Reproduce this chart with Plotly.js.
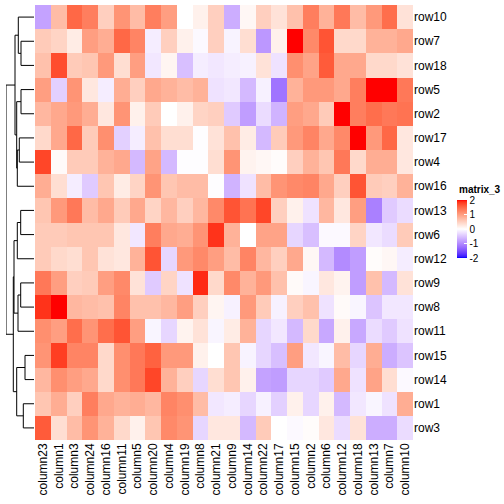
<!DOCTYPE html>
<html><head><meta charset="utf-8">
<script src="https://cdn.plot.ly/plotly-3.0.1.min.js"></script>
<style>html,body{margin:0;padding:0;background:#fff}#chart{width:504px;height:504px}</style>
</head><body><div id="chart"></div>
<script>
const columns = ["column23","column1","column3","column24","column16","column11","column5","column20","column4","column19","column8","column21","column9","column14","column22","column17","column15","column2","column6","column12","column18","column13","column7","column10"];
const rows = ["row10","row7","row18","row5","row2","row17","row4","row16","row13","row6","row12","row9","row8","row11","row15","row14","row1","row3"];

const row10 = [-0.8,0.7,1.5,1.3,0.5,1.1,0.7,1.3,1.0,0.0,0.15,0.5,-0.7,0.08,0.5,0.3,0.65,1.3,0.8,1.35,0.7,1.05,1.45,0.3];
const row7  = [0.55,0.45,0.2,1.0,0.85,1.5,1.25,-0.15,0.5,0.15,-0.05,0.5,-0.1,0.35,-0.9,0.15,2.2,1.2,1.65,0.4,0.4,0.8,0.8,0.9];
const row18 = [0.65,1.7,0.55,0.6,1.05,0.35,1.0,-0.2,0.1,-0.55,-0.15,-0.2,-0.15,-0.12,0.3,-0.25,1.15,0.95,1.6,0.9,0.9,0.4,0.4,0.3];
const row5  = [1.0,-0.4,1.1,0.25,-0.15,0.85,0.5,0.9,0.8,0.7,0.8,-0.25,-0.2,-0.6,-0.12,-1.2,0.8,1.05,1.05,0.9,1.3,2.05,2.2,1.35];
const row2  = [0.75,0.9,1.05,0.85,0.25,1.1,0.15,0.55,0.0,0.15,0.45,0.5,-0.45,-0.85,-0.3,-0.65,1.0,0.9,0.55,2.2,1.3,1.45,1.35,1.4];
const row17 = [0.4,0.9,1.5,0.55,1.15,-0.4,-0.15,0.65,0.35,0.35,-0.02,0.3,0.65,0.2,-0.6,0.55,1.05,1.25,0.9,1.2,2.2,1.05,1.5,0.25];
const row4  = [1.75,0.05,0.55,0.55,0.8,0.9,-0.6,0.95,-0.6,-0.02,-0.02,0.35,1.1,0.12,0.08,0.03,0.5,0.8,0.6,1.35,0.4,0.85,0.85,0.25];
const row16 = [0.85,0.35,-0.15,-0.45,0.6,0.2,0.45,1.1,0.6,0.7,0.7,-0.02,-0.65,-0.25,0.7,1.1,1.2,1.25,0.9,0.5,1.65,0.55,0.5,0.8];
const row13 = [0.6,1.05,1.35,0.7,0.9,0.55,0.9,0.45,0.75,0.5,0.75,1.2,1.65,1.4,1.75,0.5,0.15,-0.25,0.75,0.25,1.0,-1.1,-0.45,-0.3];
const row6  = [0.55,0.55,0.6,0.6,0.6,0.25,-0.2,1.3,0.9,0.85,1.1,1.85,0.8,0.0,0.95,0.95,-0.35,-0.55,-0.05,-0.05,0.45,-0.2,-0.3,0.55];
const row12 = [0.55,0.4,0.35,0.6,0.3,0.25,0.8,1.65,-0.35,1.05,1.2,1.0,0.7,1.25,0.75,0.5,0.9,0.08,-0.6,-1.0,-0.85,0.03,0.08,-0.15];
const row9  = [1.35,1.0,0.5,0.55,1.0,1.2,0.3,-0.45,0.45,-0.25,1.9,0.4,1.2,0.8,1.05,0.65,0.05,-0.08,0.25,0.12,-0.85,0.65,-0.6,0.3];
const row8  = [1.85,2.2,0.75,0.7,0.65,1.25,0.65,0.65,0.75,1.0,0.5,0.1,-0.12,1.05,0.55,-0.12,0.5,0.65,-0.25,0.05,-0.08,-0.5,-0.2,-0.2];
const row11 = [1.15,1.0,1.45,1.1,1.45,1.65,1.0,-0.08,-0.35,0.12,0.3,-0.08,0.2,0.8,-0.35,-0.2,-0.6,0.4,-0.75,0.15,-0.75,-0.3,-0.45,-0.25];
const row15 = [1.1,1.8,1.25,1.25,0.4,1.15,1.35,1.55,1.05,1.05,0.15,0.0,0.6,-0.1,-0.35,-0.55,1.0,-0.2,-0.08,0.7,-0.35,0.85,-0.7,-0.5];
const row14 = [0.75,1.15,1.0,0.9,0.4,1.15,1.35,1.75,0.8,0.5,-0.35,0.35,0.6,0.15,-0.8,-0.85,-0.35,-0.35,-0.45,0.9,-0.25,0.95,0.35,-0.05];
const row1  = [0.6,0.85,0.5,1.3,0.9,0.8,0.85,0.75,1.25,1.15,0.7,-0.2,-0.15,-0.35,-0.12,-0.4,0.15,-0.35,0.15,-0.6,-0.2,-0.08,-0.25,0.85];
const row3  = [1.6,0.35,0.7,1.1,0.8,0.4,0.15,0.6,1.2,1.1,-0.35,0.25,0.25,-0.6,0.55,0.0,-0.05,0.03,0.25,-0.3,0.3,-0.7,-0.7,-0.3];

const legendTicks = [-2,-1,0,1,2];
const legendTitle = "matrix_3";

// row dendrogram: [child, child, height]; strings are leaves, numbers refer to earlier merges
const merges = [
  ["row7","row18",13],
  ["row10",0,15.7],
  ["row5","row2",13],
  ["row17","row4",14.7],
  [3,"row16",16.7],
  [2,4,17.3],
  [1,5,19],
  ["row13","row6",13.3],
  [7,"row12",16.7],
  ["row9","row8",13.3],
  [9,"row11",16],
  [8,10,20],
  ["row15","row14",9],
  ["row1","row3",10.7],
  [12,13,17.3],
  [11,14,20.7],
  [6,15,28]
];

const z = [row10,row7,row18,row5,row2,row17,row4,row16,row13,row6,row12,row9,row8,row11,row15,row14,row1,row3];

// LAB interpolation blue-white-red
function toLin(c){c/=255;return c<=0.04045?c/12.92:Math.pow((c+0.055)/1.055,2.4);}
function toS(c){c=c<=0.0031308?12.92*c:1.055*Math.pow(c,1/2.4)-0.055;return Math.round(Math.max(0,Math.min(1,c))*255);}
const Wn=[0.95047,1,1.08883];
function rgb2lab(rgb){const r=toLin(rgb[0]),g=toLin(rgb[1]),b=toLin(rgb[2]);
  const X=(0.4124*r+0.3576*g+0.1805*b)/Wn[0],Y=(0.2126*r+0.7152*g+0.0722*b)/Wn[1],Z=(0.0193*r+0.1192*g+0.9505*b)/Wn[2];
  const f=t=>t>0.008856?Math.cbrt(t):7.787*t+16/116;const fx=f(X),fy=f(Y),fz=f(Z);
  return [116*fy-16,500*(fx-fy),200*(fy-fz)];}
function lab2rgb(lab){const fy=(lab[0]+16)/116,fx=fy+lab[1]/500,fz=fy-lab[2]/200;
  const fi=t=>{const t3=t*t*t;return t3>0.008856?t3:(t-16/116)/7.787;};
  const X=Wn[0]*fi(fx),Y=Wn[1]*fi(fy),Z=Wn[2]*fi(fz);
  const r=3.2406*X-1.5372*Y-0.4986*Z,g=-0.9689*X+1.8758*Y+0.0415*Z,b=0.0557*X-0.2040*Y+1.0570*Z;
  return 'rgb('+toS(r)+','+toS(g)+','+toS(b)+')';}
const LB=rgb2lab([0,0,255]),LW=rgb2lab([255,255,255]),LR=rgb2lab([255,0,0]);
const cs=[];const N=40;
for(let i=0;i<=N;i++){const t=i/N;let a,b,u;
  if(t<=0.5){a=LB;b=LW;u=t/0.5;}else{a=LW;b=LR;u=(t-0.5)/0.5;}
  cs.push([t,lab2rgb([a[0]+(b[0]-a[0])*u,a[1]+(b[1]-a[1])*u,a[2]+(b[2]-a[2])*u])]);}

// dendrogram lines
const dx=[],dy=[];
const nodes=[];
function pos(c){ if(typeof c==='string') return {y:rows.indexOf(c),h:0}; return nodes[c]; }
merges.forEach(m=>{const a=pos(m[0]),b=pos(m[1]),h=m[2];
  dx.push(a.h,h,h,b.h,null);dy.push(a.y,a.y,b.y,b.y,null);
  nodes.push({y:(a.y+b.y)/2,h:h});});
const maxH=merges[merges.length-1][2];

const W=504,H=504;
const font="Liberation Sans, Arial, sans-serif";
const data=[
 {type:'heatmap',z:z,x:columns.map((c,i)=>i),y:rows.map((r,i)=>i),zmin:-2,zmax:2,colorscale:cs,xgap:0,ygap:0,
  colorbar:{x:457/W,xanchor:'left',y:1-200/H,yanchor:'top',len:58,lenmode:'pixels',thickness:10,thicknessmode:'pixels',
   xpad:0,ypad:0,outlinewidth:0,tickvals:legendTicks,ticktext:legendTicks.map(String),ticks:'inside',ticklen:3,tickcolor:'#fff',tickwidth:1,
   tickfont:{family:font,size:10,color:'#000'}},
  hoverinfo:'none'},
 {type:'scatter',mode:'lines',x:dx,y:dy,xaxis:'x2',yaxis:'y',line:{color:'#000',width:1},hoverinfo:'none',showlegend:false}
];
const layout={width:W,height:H,margin:{l:0,r:0,t:0,b:0},paper_bgcolor:'#fff',plot_bgcolor:'#fff',showlegend:false,
 xaxis:{domain:[35/W,413/W],range:[-0.5,columns.length-0.5],tickvals:columns.map((c,i)=>i),ticktext:columns,tickangle:-90,
   showgrid:false,zeroline:false,showline:false,ticks:'',tickfont:{family:font,size:12,color:'#000'},anchor:'y'},
 yaxis:{domain:[1-440/H,1-5/H],range:[rows.length-0.5,-0.5],tickvals:rows.map((r,i)=>i),ticktext:rows,side:'right',
   showgrid:false,zeroline:false,showline:false,ticks:'',tickfont:{family:font,size:12,color:'#000'},anchor:'x'},
 xaxis2:{domain:[6/W,34/W],range:[maxH,0],visible:false,anchor:'y',showgrid:false,zeroline:false},
 annotations:[{text:'<b>'+legendTitle+'</b>',xref:'paper',yref:'paper',x:457/W,y:1-189/H,xanchor:'left',yanchor:'middle',
   showarrow:false,font:{family:font,size:10,color:'#000'}}]
};
Plotly.newPlot('chart',data,layout,{displayModeBar:false,staticPlot:true});
</script></body></html>
